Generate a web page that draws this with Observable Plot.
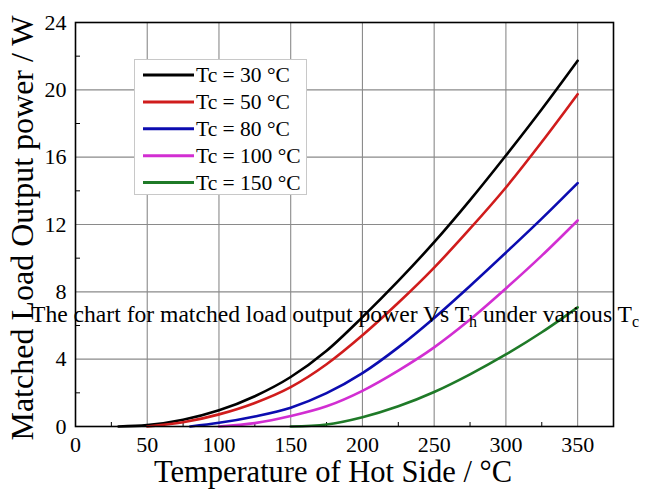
<!DOCTYPE html>
<html>
<head>
<meta charset="utf-8">
<script src="https://cdn.jsdelivr.net/npm/d3@7"></script>
<script src="https://cdn.jsdelivr.net/npm/@observablehq/plot@0.6"></script>
<style>
  html, body { margin: 0; padding: 0; background: white; }
  #chart { width: 650px; height: 491px; }
  #chart svg, #chart svg text, #chart svg g { font-family: "Liberation Serif", "DejaVu Serif", serif !important; }
</style>
</head>
<body>
<div id="chart"></div>
<script>
// ---- data ----
const seriesLabels = ["Tc = 30 °C", "Tc = 50 °C", "Tc = 80 °C", "Tc = 100 °C", "Tc = 150 °C"];
const seriesColors = ["#000000", "#d01c1c", "#0c0cb0", "#d22ed2", "#1f7a28"];

const thTc30 = [30, 50, 75, 100, 125, 150, 175, 200, 225, 250, 275, 300, 325, 350];
const pTc30  = [0, 0.08, 0.4, 0.96, 1.8, 2.94, 4.5, 6.5, 8.65, 10.95, 13.45, 16.1, 18.85, 21.73];

const thTc50 = [50, 75, 100, 125, 150, 175, 200, 225, 250, 275, 300, 325, 350];
const pTc50  = [0, 0.25, 0.72, 1.4, 2.34, 3.7, 5.42, 7.35, 9.44, 11.75, 14.2, 16.9, 19.74];

const thTc80 = [80, 100, 125, 150, 175, 200, 225, 250, 275, 300, 325, 350];
const pTc80  = [0, 0.22, 0.6, 1.12, 1.98, 3.17, 4.7, 6.45, 8.35, 10.33, 12.35, 14.46];

const thTc100 = [100, 125, 150, 175, 200, 225, 250, 275, 300, 325, 350];
const pTc100  = [0, 0.2, 0.62, 1.2, 2.12, 3.32, 4.7, 6.35, 8.2, 10.15, 12.24];

const thTc150 = [150, 175, 200, 225, 250, 275, 300, 325, 350];
const pTc150  = [0, 0.12, 0.55, 1.2, 2.05, 3.1, 4.28, 5.6, 7.08];

const xMajorTicks = [0, 50, 100, 150, 200, 250, 300, 350];
const xMinorTicks = [25, 75, 125, 175, 225, 275, 325];
const yMajorTicks = [0, 4, 8, 12, 16, 20, 24];
const yMinorTicks = [2, 6, 10, 14, 18, 22];
const xTitle = "Temperature of Hot Side / °C";
const yTitle = "Matched Load Output power / W";

// ---- build table ----
const seriesTh = [thTc30, thTc50, thTc80, thTc100, thTc150];
const seriesP  = [pTc30, pTc50, pTc80, pTc100, pTc150];
const rows = [];
seriesLabels.forEach((s, i) => {
  seriesTh[i].forEach((t, j) => rows.push({series: s, th: t, p: seriesP[i][j]}));
});

const FONT = '"Liberation Serif", "DejaVu Serif", serif';

const svg = Plot.plot({
  width: 650,
  height: 491,
  marginLeft: 75,
  marginRight: 37,
  marginTop: 22,
  marginBottom: 65,
  style: {fontFamily: FONT, color: "black", background: "white", overflow: "visible"},
  x: {domain: [0, 375]},
  y: {domain: [0, 24]},
  color: {domain: seriesLabels, range: seriesColors},
  marks: [
    Plot.gridX(xMajorTicks.filter(d => d > 0), {stroke: "#8a8a8a", strokeOpacity: 1, strokeWidth: 1.1}),
    Plot.gridY(yMajorTicks.filter(d => d > 0 && d < 24), {stroke: "#8a8a8a", strokeOpacity: 1, strokeWidth: 1.1}),
    Plot.axisX(xMajorTicks, {tickSize: 0, tickPadding: 10, fontSize: 22, fontFamily: FONT, label: null, tickFormat: d => String(d)}),
    Plot.axisX(xMinorTicks, {tickSize: -4, tickFormat: () => "", label: null, stroke: "black"}),
    Plot.axisY(yMajorTicks, {tickSize: 0, tickPadding: 9, fontSize: 22, fontFamily: FONT, label: null, tickFormat: d => String(d)}),
    Plot.axisY(yMinorTicks, {tickSize: -5, tickFormat: () => "", label: null, stroke: "black"}),
    Plot.line(rows, {x: "th", y: "p", z: "series", stroke: "series", strokeWidth: 2.6, curve: "monotone-x"}),
    Plot.frame({stroke: "black", strokeWidth: 1.6})
  ]
});

document.getElementById("chart").appendChild(svg);

const root = d3.select(svg);

// axis titles
root.append("text")
  .attr("x", 333).attr("y", 482)
  .attr("text-anchor", "middle")
  .style("font-size", "30.5px").attr("fill", "black")
  .text(xTitle);

root.append("text")
  .attr("transform", "translate(33,228) rotate(-90)")
  .attr("text-anchor", "middle")
  .style("font-size", "32px").attr("fill", "black")
  .text(yTitle);

// legend
const lg = root.append("g").attr("text-anchor", "start");
lg.append("rect")
  .attr("x", 134.5).attr("y", 59.5).attr("width", 172).attr("height", 135)
  .attr("fill", "white").attr("stroke", "#c8c8c8").attr("stroke-width", 1);
seriesLabels.forEach((s, i) => {
  const yy = 75 + i * 26.9;
  lg.append("line")
    .attr("x1", 143).attr("x2", 194).attr("y1", yy).attr("y2", yy)
    .attr("stroke", seriesColors[i]).attr("stroke-width", 3);
  lg.append("text")
    .attr("x", 196).attr("y", yy + 7)
    .attr("text-anchor", "start")
    .style("font-size", "21.5px").attr("fill", "black")
    .text(s);
});

// overlay caption with subscripts
const cap = root.append("text")
  .attr("x", 31).attr("y", 321.5)
  .attr("text-anchor", "start")
  .style("font-size", "23.6px").attr("fill", "black");
cap.append("tspan").text("The chart for matched load output power Vs T");
cap.append("tspan").attr("dy", 5).style("font-size", "16px").text("h");
cap.append("tspan").attr("dy", -5).text(" under various T");
cap.append("tspan").attr("dy", 5).style("font-size", "16px").text("c");
</script>
</body>
</html>
